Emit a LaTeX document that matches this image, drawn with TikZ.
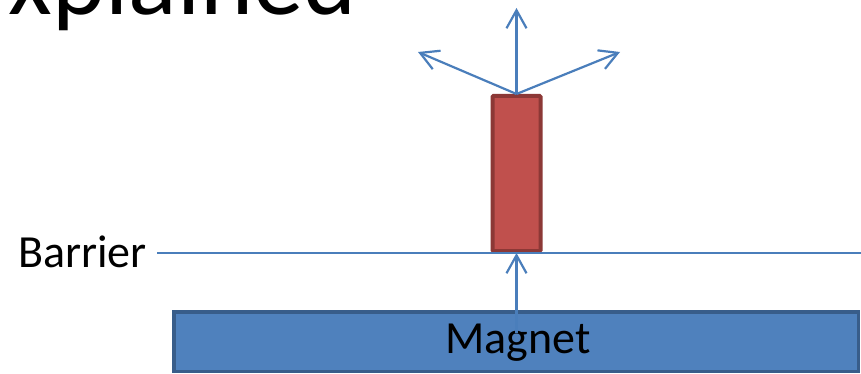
\documentclass[tikz,border=0pt]{standalone}
\usepackage{fontspec}
\setmainfont{Carlito}
\usetikzlibrary{arrows.meta}
\definecolor{lineblue}{HTML}{4A7EBB}
\definecolor{magfill}{HTML}{4F81BD}
\definecolor{magedge}{HTML}{385D8A}
\definecolor{rodfill}{HTML}{C0504D}
\definecolor{rodedge}{HTML}{8C3836}
\begin{document}
\begin{tikzpicture}[x=1pt,y=-1pt,
  conn/.style={draw=lineblue,line width=2.2pt},
  arr/.style={conn,-{Straight Barb[length=18pt,width=20pt,line width=2.2pt]}},
  rodbox/.style={draw=rodedge,fill=rodfill,line width=4pt,rounded corners=1pt,inner sep=0pt},
  magbox/.style={draw=magedge,fill=magfill,line width=3.5pt,inner sep=0pt},
  label/.style={font=\fontsize{46}{46}\selectfont,text=black,inner sep=0pt}]
\useasboundingbox (0,0) rectangle (861,374);
\clip (0,0) rectangle (861,374);
\node[anchor=base east,font=\fontsize{101}{101}\selectfont,inner sep=0pt] (title) at (357,15) {xplained};
\node[magbox,minimum width=684.5pt,minimum height=59.5pt] (magnet) at (516,341.5) {};
\node[label] (magtext) at (518,343) {Magnet};
\node[rodbox,minimum width=48pt,minimum height=155pt] (rod) at (516.5,173.5) {};
\node[label,anchor=base east] (barrier) at (147,267) {Barrier};
\coordinate (bl) at (157,253);
\coordinate (br) at (861,253);
\coordinate (mstart) at (516.5,333);
\coordinate (up) at (516.5,8);
\coordinate (upleft) at (418,52);
\coordinate (upright) at (620,52);
\draw[conn] (bl) -- (br);
\draw[arr] (mstart) -- (rod.south);
\draw[arr] (rod.north) -- (up);
\draw[arr] (rod.north) -- (upleft);
\draw[arr] (rod.north) -- (upright);
\end{tikzpicture}
\end{document}
